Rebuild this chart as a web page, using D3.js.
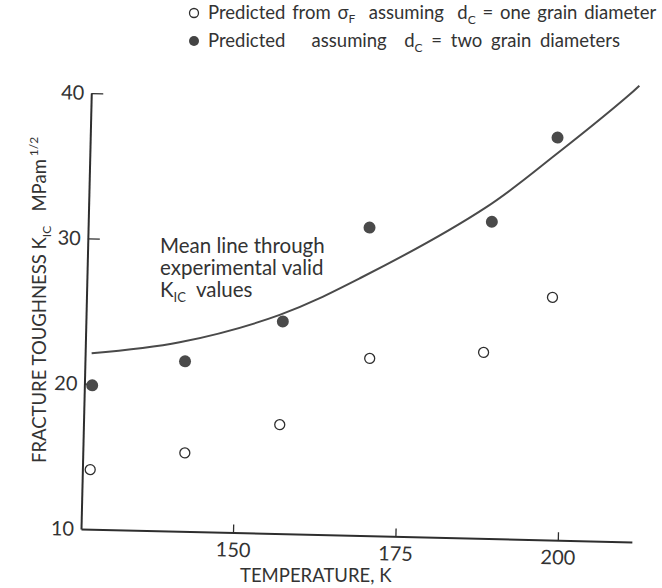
<!DOCTYPE html>
<html>
<head>
<meta charset="utf-8">
<script src="https://cdn.jsdelivr.net/npm/d3@7"></script>
<style>
    body { margin: 0; background: #fff; }
    text { font-family: Lato, "Open Sans", sans-serif; fill: #333; white-space: pre; }
</style>
</head>
<body>
<div id="chartContainer"></div>
<script>
// values
var tempFilled = [127.8, 142.0, 156.9, 169.9, 188.7, 198.5];
var kFilled = [19.9, 21.7, 24.6, 31.2, 31.8, 37.7];
var tempOpen = [127.8, 142.3, 156.8, 170.4, 187.9, 198.3];
var kOpen = [14.1, 15.4, 17.5, 22.2, 22.8, 26.7];
var meanT = [127.6, 141.1, 156.4, 168.6, 187.8, 198.5, 209.0, 210.9];
var meanK = [22.1, 23.0, 25.05, 27.7, 32.8, 36.6, 40.6, 41.4];
var xTicks = [150, 175, 200];
var yTicks = [10, 20, 30, 40];

var width = 662;
var height = 588;
var ink = "#2e2e2e";

var svg = d3.select("#chartContainer").append("svg")
    .attr("width", width)
    .attr("height", height);

///////////////////////////
//legend across the top  //
///////////////////////////
var legend = svg.append("g");
legend.append("circle")
    .attr("cx", 194).attr("cy", 13).attr("r", 4.5)
    .style("fill", "#fff").style("stroke", ink).style("stroke-width", 1.3);
legend.append("circle")
    .attr("cx", 194).attr("cy", 41).attr("r", 5)
    .style("fill", "#444");

var l1 = legend.append("text").attr("x", 208).attr("y", 19)
    .style("font-size", "18.5px").style("word-spacing", "2px");
l1.append("tspan").text("Predicted from \u03C3");
l1.append("tspan").attr("dy", 4).style("font-size", "12px").text("F");
l1.append("tspan").attr("dy", -4).text("  assuming  d");
l1.append("tspan").attr("dy", 5).style("font-size", "12px").text("C");
l1.append("tspan").attr("dy", -5).text(" = one grain diameter");

var l2 = legend.append("text").attr("x", 208).attr("y", 47)
    .style("font-size", "18.5px").style("word-spacing", "4px");
l2.append("tspan").text("Predicted   assuming  d");
l2.append("tspan").attr("dy", 5).style("font-size", "12px").text("C");
l2.append("tspan").attr("dy", -5).text(" = two grain diameters");

/////////////////////////////////////////
//plot frame, slightly tilted like scan//
/////////////////////////////////////////
var plot = svg.append("g")
    .attr("transform", "translate(81,529) rotate(1.35)");

var x = d3.scaleLinear().domain([126.6, 211.4]).range([0, 551]);
var y = d3.scaleLinear().domain([10, 40]).range([0, -436]);

var xAxis = plot.append("g")
    .call(d3.axisBottom(x).tickValues(xTicks).tickSizeInner(-8).tickSizeOuter(0).tickPadding(10));
var yAxis = plot.append("g")
    .call(d3.axisLeft(y).tickValues(yTicks).tickSizeInner(-12).tickSizeOuter(0).tickPadding(7));

[xAxis, yAxis].forEach(function(a) {
    a.select(".domain").style("stroke", ink).style("stroke-width", 2);
    a.selectAll(".tick line").style("stroke", ink).style("stroke-width", 1.3);
    a.selectAll(".tick text")
        .style("font-family", "Lato, sans-serif")
        .style("font-size", "20px")
        .style("fill", "#333");
});
// no small tick at the 10 corner
yAxis.selectAll(".tick").filter(function(d) { return d == 10; }).select("line").remove();

var line = d3.line()
    .x(function(d) { return x(d[0]); })
    .y(function(d) { return y(d[1]); })
    .curve(d3.curveCatmullRom.alpha(0.5));

plot.append("path")
    .datum(d3.zip(meanT, meanK))
    .attr("d", line)
    .style("fill", "none")
    .style("stroke", "#4a4a4a")
    .style("stroke-width", 2);

plot.selectAll(".open")
    .data(d3.zip(tempOpen, kOpen)).enter()
    .append("circle")
    .attr("class", "open")
    .attr("cx", function(d) { return x(d[0]); })
    .attr("cy", function(d) { return y(d[1]); })
    .attr("r", 5)
    .style("fill", "#fff")
    .style("stroke", ink)
    .style("stroke-width", 1.3);

plot.selectAll(".filled")
    .data(d3.zip(tempFilled, kFilled)).enter()
    .append("circle")
    .attr("class", "filled")
    .attr("cx", function(d) { return x(d[0]); })
    .attr("cy", function(d) { return y(d[1]); })
    .attr("r", 6)
    .style("fill", "#4a4a4a");

//////////////////
//axis captions //
//////////////////
svg.append("text")
    .attr("x", 240)
    .attr("y", 582)
    .style("font-size", "18.5px")
    .text("TEMPERATURE, K");

var yl = svg.append("text")
    .attr("transform", "translate(46,463) rotate(-90)")
    .style("font-size", "18.5px");
yl.append("tspan").text("FRACTURE TOUGHNESS K");
yl.append("tspan").attr("dy", 5).style("font-size", "12px").text("IC");
yl.append("tspan").attr("dy", -5).text("   MPam");
yl.append("tspan").attr("dy", -8).attr("dx", 3).style("font-size", "12px").text("1/2");

var note = svg.append("text").style("font-size", "20.5px");
note.append("tspan").attr("x", 160).attr("y", 253).text("Mean line through");
note.append("tspan").attr("x", 160).attr("y", 275).text("experimental valid");
var n3 = svg.append("text").attr("x", 160).attr("y", 297).style("font-size", "20.5px");
n3.append("tspan").text("K");
n3.append("tspan").attr("dy", 5).style("font-size", "13px").text("IC");
n3.append("tspan").attr("dy", -5).text("  values");
</script>
</body>
</html>
